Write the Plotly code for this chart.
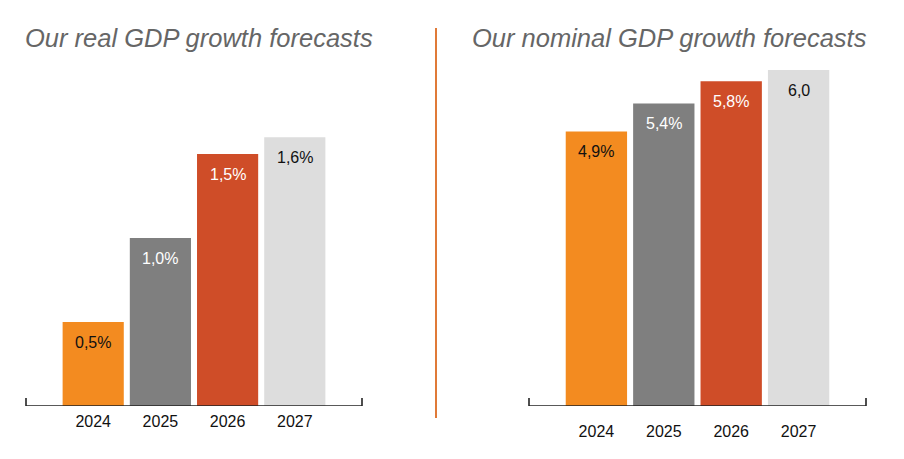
import plotly.graph_objects as go

years = ["2024", "2025", "2026", "2027"]
real_growth = [0.5, 1.0, 1.5, 1.6]
real_labels = ["0,5%", "1,0%", "1,5%", "1,6%"]
nominal_growth = [4.9, 5.4, 5.8, 6.0]
nominal_labels = ["4,9%", "5,4%", "5,8%", "6,0"]
bar_colors = ["#F38B20", "#7F7F7F", "#CF4D28", "#DDDDDD"]
label_colors = ["#111111", "#FFFFFF", "#FFFFFF", "#111111"]
titles = ["Our real GDP growth forecasts", "Our nominal GDP growth forecasts"]

# page body adds an 8px margin; target pixel coords are measured from the window corner
OX, OY = 8, 8
W, H = 896, 451
FONT = "Liberation Sans"


def px(x):
    return (x - OX) / W


def py(y):
    return 1 - (y - OY) / H


fig = go.Figure()
fig.add_trace(go.Bar(x=years, y=real_growth, marker=dict(color=bar_colors, line=dict(width=0)),
                     xaxis="x", yaxis="y", hoverinfo="skip"))
fig.add_trace(go.Bar(x=years, y=nominal_growth, marker=dict(color=bar_colors, line=dict(width=0)),
                     xaxis="x2", yaxis="y2", hoverinfo="skip"))

ydom = [py(406), py(70)]
annotations = []
for xa, ya, vals, labs in [("x", "y", real_growth, real_labels), ("x2", "y2", nominal_growth, nominal_labels)]:
    for i, (v, lab, c) in enumerate(zip(vals, labs, label_colors)):
        annotations.append(dict(x=i, y=v, xref=xa, yref=ya, text=lab, showarrow=False,
                                yanchor="middle", yshift=-20,
                                font=dict(family=FONT, size=16, color=c)))

annotations.append(dict(x=px(199), y=py(38), xref="paper", yref="paper", text=titles[0],
                        showarrow=False, xanchor="center", yanchor="middle",
                        font=dict(family=FONT, size=25.5, color="#666666", style="italic")))
annotations.append(dict(x=px(669.5), y=py(38), xref="paper", yref="paper", text=titles[1],
                        showarrow=False, xanchor="center", yanchor="middle",
                        font=dict(family=FONT, size=25.5, color="#666666", style="italic")))

shapes = []
for xa, ya in [("x", "y"), ("x2", "y2")]:
    shapes.append(dict(type="line", xref=f"{xa} domain", yref=ya, x0=0, x1=1, y0=0, y1=0,
                       line=dict(color="#222222", width=1.6)))
    for xe in [0, 1]:
        shapes.append(dict(type="line", xref=f"{xa} domain", yref=ya, ysizemode="pixel", yanchor=0,
                           x0=xe, x1=xe, y0=0, y1=8, line=dict(color="#222222", width=1.6)))
shapes.append(dict(type="line", xref="paper", yref="paper", x0=px(436), x1=px(436),
                   y0=py(28), y1=py(418), line=dict(color="#E07A38", width=2)))

axis_common = dict(type="category", showgrid=False, zeroline=False, showline=False, ticks="",
                   tickfont=dict(family=FONT, size=16, color="#111111"), fixedrange=True)

fig.update_layout(
    width=W, height=H, margin=dict(l=0, r=0, t=0, b=0),
    paper_bgcolor="white", plot_bgcolor="white", showlegend=False, bargap=0.09,
    xaxis=dict(domain=[px(26), px(362)], range=[-1, 4], anchor="y", ticklabelstandoff=4, **axis_common),
    yaxis=dict(domain=ydom, range=[0, 2.0], visible=False, anchor="x"),
    xaxis2=dict(domain=[px(529), px(866)], range=[-1, 4], anchor="y2", ticklabelstandoff=14, **axis_common),
    yaxis2=dict(domain=ydom, range=[0, 6.0], visible=False, anchor="x2"),
    annotations=annotations, shapes=shapes,
)

fig.write_html("out.html")
